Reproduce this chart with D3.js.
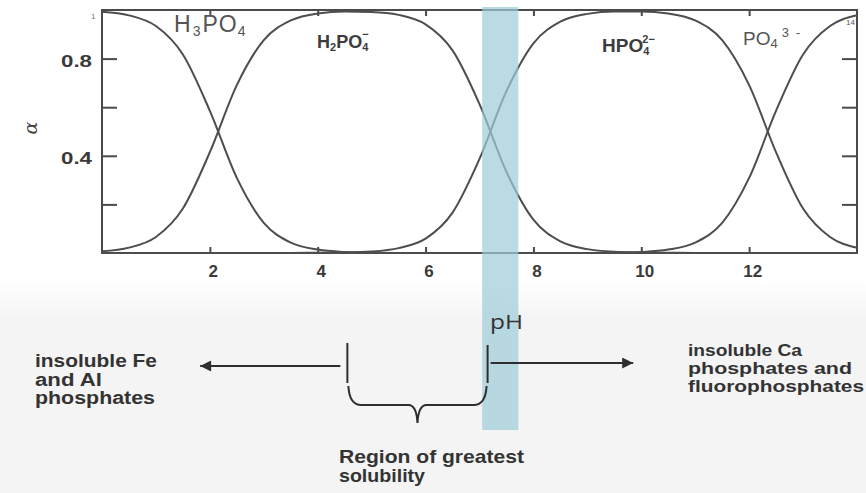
<!DOCTYPE html>
<html>
<head>
<meta charset="utf-8">
<script src="https://cdn.jsdelivr.net/npm/d3@7"></script>
<style>
  html, body { margin: 0; padding: 0; background: #ffffff; }
  svg { display: block; }
</style>
</head>
<body>
<svg id="chart" width="866" height="493"></svg>
<script>
// pH grid and fraction of each phosphate species (alpha) at that pH
const pH = [0, 0.5, 1, 1.5, 2, 2.5, 3, 3.5, 4, 4.5, 5, 5.5, 6, 6.5, 7,
            7.5, 8, 8.5, 9, 9.5, 10, 10.5, 11, 11.5, 12, 12.5, 13, 13.5, 14];
const alphaH3PO4 = [0.993, 0.978, 0.934, 0.817, 0.585, 0.309, 0.124, 0.043, 0.014, 0.004, 0.001,
                    0, 0, 0, 0, 0, 0, 0, 0, 0, 0, 0, 0, 0, 0, 0, 0, 0, 0];
const alphaH2PO4 = [0.007, 0.022, 0.066, 0.183, 0.415, 0.691, 0.876, 0.957, 0.986, 0.994, 0.992,
                    0.980, 0.941, 0.834, 0.613, 0.334, 0.137, 0.048, 0.016, 0.005, 0.002, 0.001,
                    0, 0, 0, 0, 0, 0, 0];
const alphaHPO4 = [0, 0, 0, 0, 0, 0, 0, 0, 0.001, 0.002, 0.006, 0.020, 0.059, 0.166, 0.387,
                   0.666, 0.863, 0.952, 0.984, 0.994, 0.994, 0.986, 0.957, 0.876, 0.691, 0.414,
                   0.183, 0.066, 0.022];
const alphaPO4 = [0, 0, 0, 0, 0, 0, 0, 0, 0, 0, 0, 0, 0, 0, 0, 0, 0, 0, 0,
                  0.001, 0.004, 0.014, 0.043, 0.124, 0.309, 0.586, 0.817, 0.934, 0.978];

// axis ticks
const xTicks = [2, 4, 6, 8, 10, 12];
const yTicks = [0.2, 0.4, 0.6, 0.8];
const yTickLabels = [0.4, 0.8];

// pH ranges used by the annotations below the chart
const bandRange = [7.05, 7.72];        // highlighted pH band
const solubilityRange = [4.55, 7.15];  // region of greatest solubility
const arrowTips = [1.82, 9.85];        // ends of the two arrows

const svg = d3.select("#chart");
const W = 866, H = 493;

// subtle grey paper below the chart
const defs = svg.append("defs");
const grad = defs.append("linearGradient").attr("id", "paper")
  .attr("x1", 0).attr("y1", 0).attr("x2", 0).attr("y2", 1);
grad.append("stop").attr("offset", "0%").attr("stop-color", "#ffffff");
grad.append("stop").attr("offset", "100%").attr("stop-color", "#f4f4f4");
svg.append("rect").attr("width", W).attr("height", H).attr("fill", "#ffffff");
svg.append("rect").attr("x", 0).attr("y", 280).attr("width", W).attr("height", 40).attr("fill", "url(#paper)");
svg.append("rect").attr("x", 0).attr("y", 320).attr("width", W).attr("height", H - 320).attr("fill", "#f4f4f4");

const x = d3.scaleLinear().domain([0, 14]).range([102, 857]);
const y = d3.scaleLinear().domain([0, 1]).range([253, 10]);

const ink = "#4a4a4a";

// frame
svg.append("rect")
  .attr("x", x(0)).attr("y", y(1))
  .attr("width", x(14) - x(0)).attr("height", y(0) - y(1))
  .attr("fill", "none").attr("stroke", ink).attr("stroke-width", 2);

// axes with inward ticks
const tickFont = "'Liberation Sans', Arial, sans-serif";

const gx = svg.append("g").attr("transform", `translate(0,${y(0)})`)
  .call(d3.axisBottom(x).tickValues(xTicks).tickSizeInner(-6).tickSizeOuter(0).tickPadding(12));
const gxTop = svg.append("g").attr("transform", `translate(0,${y(1)})`)
  .call(d3.axisTop(x).tickValues(xTicks).tickSizeInner(-6).tickSizeOuter(0).tickFormat(""));
const gy = svg.append("g").attr("transform", `translate(${x(0)},0)`)
  .call(d3.axisLeft(y).tickValues(yTicks).tickSizeInner(-15).tickSizeOuter(0).tickPadding(10)
    .tickFormat(d => yTickLabels.includes(d) ? d3.format(".1f")(d) : ""));
const gyRight = svg.append("g").attr("transform", `translate(${x(14)},0)`)
  .call(d3.axisRight(y).tickValues(yTicks).tickSizeInner(-15).tickSizeOuter(0).tickFormat(""));

[gx, gxTop, gy, gyRight].forEach(g => {
  g.select(".domain").remove();
  g.selectAll(".tick line").attr("stroke", ink).attr("stroke-width", 2);
  g.selectAll("text").attr("fill", "#3a3a3a")
    .attr("font-family", tickFont).attr("font-weight", "bold").attr("font-size", 17);
});
gx.selectAll(".tick text").attr("dx", 3);
gy.selectAll(".tick text").attr("dy", "0.45em")
  .attr("textLength", 31).attr("lengthAdjust", "spacingAndGlyphs");

// y axis title
svg.append("text")
  .attr("transform", "translate(37,128) rotate(-90)")
  .attr("text-anchor", "middle")
  .attr("font-family", "'DejaVu Serif', serif").attr("font-style", "italic").attr("font-size", 19)
  .attr("fill", "#444").text("α");

// small corner marks
svg.append("text").attr("x", 91).attr("y", 19).attr("font-family", tickFont)
  .attr("font-size", 8).attr("fill", "#777").text("1");
svg.append("text").attr("x", 846).attr("y", 25).attr("font-family", tickFont)
  .attr("font-size", 8).attr("fill", "#555").text("14");

// species curves
const species = [alphaH3PO4, alphaH2PO4, alphaHPO4, alphaPO4];
const line = d3.line()
  .x((d, i) => x(pH[i]))
  .y(d => y(d))
  .curve(d3.curveMonotoneX);
svg.append("g").selectAll("path").data(species).join("path")
  .attr("d", line)
  .attr("fill", "none").attr("stroke", "#4d4d4d").attr("stroke-width", 2);

// species labels
function chem(xp, yp, size, weight, color, parts) {
  const t = svg.append("text").attr("x", xp).attr("y", yp)
    .attr("font-family", tickFont).attr("font-size", size)
    .attr("font-weight", weight).attr("fill", color);
  parts.forEach(p => {
    const s = t.append("tspan").text(p.t);
    if (p.size) s.attr("font-size", p.size);
    if (p.dx) s.attr("dx", p.dx);
    if (p.dy) s.attr("dy", p.dy);
    if (p.ls) s.attr("letter-spacing", p.ls);
  });
  return t;
}
chem(174, 32, 23, "normal", "#555", [
  {t: "H", ls: 2}, {t: "3", size: 14, dy: 4, ls: 2}, {t: "PO", dy: -4, ls: 1}, {t: "4", size: 14, dy: 4}
]);
chem(317, 48, 18, "bold", "#3c3c3c", [
  {t: "H"}, {t: "2", size: 11, dy: 3}, {t: "PO", dy: -3}, {t: "4", size: 11, dy: 3},
  {t: "−", size: 11, dx: -6, dy: -13}
]);
chem(602, 52, 19, "bold", "#3c3c3c", [
  {t: "HPO"}, {t: "4", size: 11, dy: 3}, {t: "2−", size: 11, dx: -7, dy: -12}
]);
chem(743, 45, 19, "normal", "#555", [
  {t: "PO"}, {t: "4", size: 13, dy: 3}, {t: "3", size: 13, dx: 4, dy: -11}, {t: "-", size: 13, dx: 7}
]);

// highlighted pH band
svg.append("rect")
  .attr("x", x(bandRange[0])).attr("y", 7)
  .attr("width", x(bandRange[1]) - x(bandRange[0])).attr("height", 430 - 7)
  .attr("fill", "#9ccad8").attr("opacity", 0.7);

// pH label
svg.append("text").attr("x", 490).attr("y", 329)
  .attr("font-family", "'Open Sans', 'Liberation Sans', sans-serif").attr("font-size", 20)
  .attr("fill", "#333").attr("textLength", 33).attr("lengthAdjust", "spacingAndGlyphs")
  .text("pH");

// arrows and solubility bracket
const annInk = "#2e2e2e";
defs.append("marker").attr("id", "head")
  .attr("viewBox", "0 0 10 10").attr("refX", 10).attr("refY", 5)
  .attr("markerWidth", 16).attr("markerHeight", 11).attr("markerUnits", "userSpaceOnUse")
  .attr("orient", "auto")
  .append("path").attr("d", "M0,0L10,5L0,10Z").attr("fill", annInk);

const xl = x(solubilityRange[0]), xr = x(solubilityRange[1]);
svg.append("line").attr("x1", xl - 7).attr("y1", 366).attr("x2", x(arrowTips[0])).attr("y2", 366)
  .attr("stroke", annInk).attr("stroke-width", 2).attr("marker-end", "url(#head)");
svg.append("line").attr("x1", xr + 3).attr("y1", 363).attr("x2", x(arrowTips[1])).attr("y2", 363)
  .attr("stroke", annInk).attr("stroke-width", 2).attr("marker-end", "url(#head)");
svg.append("line").attr("x1", xl).attr("y1", 343).attr("x2", xl).attr("y2", 383)
  .attr("stroke", annInk).attr("stroke-width", 2);
svg.append("line").attr("x1", xr).attr("y1", 345).attr("x2", xr).attr("y2", 383)
  .attr("stroke", annInk).attr("stroke-width", 2);

const xm = (xl + xr) / 2;
const brace = d3.path();
brace.moveTo(xl + 1, 386);
brace.quadraticCurveTo(xl + 2, 405, xl + 14, 405);
brace.lineTo(xm - 9, 405);
brace.quadraticCurveTo(xm - 1, 405, xm, 423);
brace.quadraticCurveTo(xm + 1, 405, xm + 9, 405);
brace.lineTo(xr - 14, 405);
brace.quadraticCurveTo(xr - 2, 405, xr - 1, 386);
svg.append("path").attr("d", brace.toString())
  .attr("fill", "none").attr("stroke", annInk).attr("stroke-width", 2);

// explanatory text blocks
function block(xp, lines, size, pitch, y0) {
  lines.forEach((ln, i) => {
    svg.append("text").attr("x", xp).attr("y", y0 + i * pitch)
      .attr("font-family", tickFont).attr("font-weight", "bold").attr("font-size", size)
      .attr("fill", "#333")
      .attr("textLength", ln.w).attr("lengthAdjust", "spacingAndGlyphs")
      .text(ln.t);
  });
}
block(35, [{t: "insoluble Fe", w: 122}, {t: "and Al", w: 67}, {t: "phosphates", w: 120}], 17.5, 18.5, 367);
block(688, [{t: "insoluble Ca", w: 114}, {t: "phosphates and", w: 164}, {t: "fluorophosphates", w: 176}], 16, 18, 356);
block(339, [{t: "Region of greatest", w: 185}, {t: "solubility", w: 86}], 19, 19, 463);
</script>
</body>
</html>
